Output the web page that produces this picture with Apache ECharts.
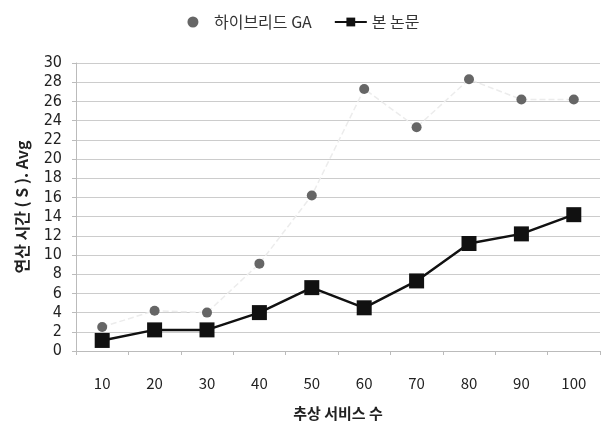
<!DOCTYPE html>
<html><head><meta charset="utf-8">
<script src="https://cdn.jsdelivr.net/npm/echarts@6/dist/echarts.min.js"></script>
<style>html,body{margin:0;padding:0;background:#fff}#c{width:607px;height:432px}</style>
</head><body><div id="c"></div>
<script>
var categories = ['10','20','30','40','50','60','70','80','90','100'];
var hybridGA = [2.5, 4.2, 4.0, 9.1, 16.2, 27.3, 23.3, 28.3, 26.2, 26.2];
var proposed = [1.1, 2.2, 2.2, 4.0, 6.6, 4.5, 7.3, 11.2, 12.2, 14.2];
var seriesNames = ['하이브리드 GA', '본 논문'];
var chart = echarts.init(document.getElementById('c'));
var font = '"Noto Sans CJK KR", "Noto Sans", sans-serif';
chart.setOption({
  animation: false,
  textStyle: {fontFamily: font},
  legend: {
    top: 9, left: 'center', itemGap: 22, itemWidth: 32, itemHeight: 11,
    textStyle: {fontSize: 16, color: '#333', fontFamily: font},
    data: [
      {name: seriesNames[0], icon: 'circle', itemStyle: {color: '#666'}},
      {name: seriesNames[1]}
    ]
  },
  grid: {left: 76, right: 7, top: 63, bottom: 81},
  xAxis: {
    type: 'category', data: categories, boundaryGap: true,
    name: '추상 서비스 수', nameLocation: 'middle', nameGap: 55,
    nameTextStyle: {fontSize: 15, fontWeight: 'bold', color: '#222'},
    axisLine: {lineStyle: {color: '#bbb'}},
    axisTick: {show: true, length: 4, lineStyle: {color: '#bbb'}},
    axisLabel: {fontSize: 15, color: '#222', margin: 25}
  },
  yAxis: {
    type: 'value', min: 0, max: 30, interval: 2,
    name: '연산 시간 ( S ). Avg', nameLocation: 'middle', nameGap: 46,
    nameTextStyle: {fontSize: 16, fontWeight: 'bold', color: '#222'},
    axisLine: {show: true, lineStyle: {color: '#bbb'}},
    axisTick: {show: true, length: 4, lineStyle: {color: '#bbb'}},
    axisLabel: {fontSize: 16, color: '#222', margin: 14, fontFamily: '"Liberation Sans Narrow", "DejaVu Sans Condensed", sans-serif'},
    splitLine: {lineStyle: {color: '#ccc'}}
  },
  series: [
    {
      name: seriesNames[0], type: 'line', data: hybridGA,
      symbol: 'circle', symbolSize: 10,
      itemStyle: {color: '#666'},
      lineStyle: {color: '#ececec', width: 1.5, type: 'dashed'}
    },
    {
      name: seriesNames[1], type: 'line', data: proposed,
      symbol: 'rect', symbolSize: 15,
      itemStyle: {color: '#111'},
      lineStyle: {color: '#111', width: 2.5}
    }
  ]
});
</script></body></html>
